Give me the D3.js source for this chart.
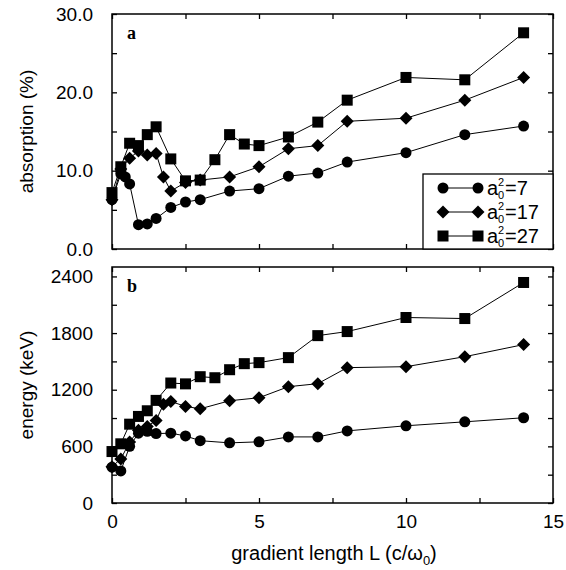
<!DOCTYPE html>
<html>
<head>
<meta charset="utf-8">
<script src="https://cdn.jsdelivr.net/npm/d3@7"></script>
<style>
  body { margin: 0; background: #fff; }
  text { font-family: "Liberation Sans", Arial, sans-serif; fill: #000; }
</style>
</head>
<body>
<div id="container"></div>
<script>
/* DATA */
const legendValues = ["7", "17", "27"];
const markerTypes = ["circle", "diamond", "square"];

// panel a: absorption (%)
const absL7  = [0, 0.3, 0.45, 0.6, 0.9, 1.2, 1.5, 2, 2.5, 3, 4, 5, 6, 7, 8, 10, 12, 14];
const abs7   = [6.3, 9.6, 9.2, 8.3, 3.1, 3.2, 3.9, 5.3, 6.0, 6.3, 7.4, 7.7, 9.3, 9.7, 11.1, 12.3, 14.6, 15.7];
const absL17 = [0, 0.3, 0.6, 0.9, 1.2, 1.5, 1.75, 2, 2.5, 3, 4, 5, 6, 7, 8, 10, 12, 14];
const abs17  = [6.3, 10.2, 11.6, 12.5, 12.0, 12.2, 9.2, 7.4, 8.5, 8.8, 9.2, 10.5, 12.8, 13.2, 16.3, 16.7, 19.0, 21.9];
const absL27 = [0, 0.3, 0.6, 0.9, 1.2, 1.5, 2, 2.5, 3, 3.5, 4, 4.5, 5, 6, 7, 8, 10, 12, 14];
const abs27  = [7.2, 10.5, 13.5, 13.2, 14.6, 15.6, 11.5, 8.7, 8.8, 11.4, 14.6, 13.4, 13.2, 14.3, 16.2, 19.0, 21.9, 21.6, 27.6];

// panel b: energy (keV)
const enL7  = [0, 0.3, 0.6, 0.9, 1.2, 1.5, 2, 2.5, 3, 4, 5, 6, 7, 8, 10, 12, 14];
const en7   = [380, 340, 600, 740, 760, 735, 740, 710, 660, 637, 648, 700, 700, 764, 818, 860, 903];
const enL17 = [0, 0.3, 0.6, 0.9, 1.2, 1.5, 1.75, 2, 2.5, 3, 4, 5, 6, 7, 8, 10, 12, 14];
const en17  = [385, 467, 645, 770, 810, 875, 1045, 1076, 1023, 998, 1083, 1115, 1232, 1264, 1434, 1444, 1550, 1678];
const enL27 = [0, 0.3, 0.6, 0.9, 1.2, 1.5, 2, 2.5, 3, 3.5, 4, 4.5, 5, 6, 7, 8, 10, 12, 14];
const en27  = [545, 627, 835, 917, 977, 1087, 1271, 1262, 1338, 1327, 1412, 1476, 1487, 1540, 1773, 1816, 1965, 1954, 2336];

const xTicks = [0, 2.5, 5, 7.5, 10, 12.5, 15];
const absTicks = [0, 5, 10, 15, 20, 25, 30];
const enTicks = [0, 300, 600, 900, 1200, 1500, 1800, 2100, 2400];

/* CONSTANTS */
const width = 566, height = 570;
const left = 112, right = 553;

const svg = d3.select("#container").append("svg")
  .attr("width", width).attr("height", height);

const xScale = d3.scaleLinear().domain([0, 15]).range([left, right]);

function drawMarker(g, type, x, y) {
  if (type === "circle") {
    g.append("circle").attr("cx", x).attr("cy", y).attr("r", 5.5).attr("fill", "#000");
  } else if (type === "diamond") {
    const s = 6.5;
    g.append("path").attr("d", `M${x},${y - s}L${x + s},${y}L${x},${y + s}L${x - s},${y}Z`).attr("fill", "#000");
  } else {
    g.append("rect").attr("x", x - 5.5).attr("y", y - 5.5).attr("width", 11).attr("height", 11).attr("fill", "#000");
  }
}

function panel(top, bottom, yDomain, yTicks, labelTicks, fmt, series, yTitle, tag, showX) {
  const yScale = d3.scaleLinear().domain(yDomain).range([bottom, top]);
  const g = svg.append("g");

  // frame
  g.append("rect").attr("x", left).attr("y", top)
    .attr("width", right - left).attr("height", bottom - top)
    .attr("fill", "none").attr("stroke", "#000").attr("stroke-width", 1.5);

  // ticks (inward on all four sides)
  const fmtY = d => labelTicks.includes(d) ? fmt(d) : "";
  const yAxisL = d3.axisLeft(yScale).tickValues(yTicks).tickSize(-5).tickPadding(19).tickFormat(fmtY);
  const yAxisR = d3.axisRight(yScale).tickValues(yTicks).tickSize(-5).tickFormat("");
  const xAxisB = d3.axisBottom(xScale).tickValues(xTicks).tickSize(-5).tickPadding(12)
    .tickFormat(d => showX && d % 5 === 0 ? d3.format("d")(d) : "");
  const xAxisT = d3.axisTop(xScale).tickValues(xTicks).tickSize(-5).tickFormat("");

  const axes = [
    g.append("g").attr("transform", `translate(${left},0)`).call(yAxisL),
    g.append("g").attr("transform", `translate(${right},0)`).call(yAxisR),
    g.append("g").attr("transform", `translate(0,${bottom})`).call(xAxisB),
    g.append("g").attr("transform", `translate(0,${top})`).call(xAxisT)
  ];
  axes.forEach(a => {
    a.select(".domain").remove();
    a.selectAll("line").attr("stroke", "#000").attr("stroke-width", 1.3);
    a.selectAll("text").attr("font-size", 19).attr("font-family", "Liberation Sans, Arial, sans-serif").attr("fill", "#000");
  });

  // y title
  g.append("text")
    .attr("transform", `translate(28,${(top + bottom) / 2}) rotate(-90)`)
    .attr("text-anchor", "middle").attr("dominant-baseline", "middle")
    .attr("font-size", 19).text(yTitle);

  // panel tag
  g.append("text").attr("x", 127).attr("y", top + 25)
    .style("font-family", "Liberation Serif, Times New Roman, serif")
    .attr("font-weight", "bold").attr("font-size", 18).text(tag);

  // lines and markers
  const line = d3.line().x(d => xScale(d[0])).y(d => yScale(d[1]));
  series.forEach((s, i) => {
    const pts = s.L.map((l, j) => [l, s.v[j]]);
    g.append("path").datum(pts).attr("d", line)
      .attr("fill", "none").attr("stroke", "#000").attr("stroke-width", 1);
    const mg = g.append("g");
    pts.forEach(p => drawMarker(mg, markerTypes[i], xScale(p[0]), yScale(p[1])));
  });
  return g;
}

panel(14, 249, [0, 30], absTicks, [0, 10, 20, 30], d3.format(".1f"),
  [{ L: absL7, v: abs7 }, { L: absL17, v: abs17 }, { L: absL27, v: abs27 }],
  "absorption (%)", "a", false);

panel(267, 503, [0, 2500], enTicks, [0, 600, 1200, 1800, 2400], d3.format("d"),
  [{ L: enL7, v: en7 }, { L: enL17, v: en17 }, { L: enL27, v: en27 }],
  "energy (keV)", "b", true);

// legend
const lg = svg.append("g");
lg.append("rect").attr("x", 423).attr("y", 174).attr("width", right - 423).attr("height", 249 - 174)
  .attr("fill", "#fff").attr("stroke", "#000").attr("stroke-width", 1.3);
legendValues.forEach((val, i) => {
  const y = 188 + i * 24;
  lg.append("line").attr("x1", 443).attr("x2", 478).attr("y1", y).attr("y2", y)
    .attr("stroke", "#000").attr("stroke-width", 1);
  drawMarker(lg, markerTypes[i], 443, y);
  drawMarker(lg, markerTypes[i], 478, y);
  const ty = y + 7;
  lg.append("text").attr("x", 487).attr("y", ty).attr("font-size", 20).text("a");
  lg.append("text").attr("x", 498).attr("y", ty - 9).attr("font-size", 11).text("2");
  lg.append("text").attr("x", 498).attr("y", ty + 4).attr("font-size", 11).text("0");
  lg.append("text").attr("x", 505).attr("y", ty).attr("font-size", 20).text("=" + val);
});

// x title
const xt = svg.append("text").attr("x", 334).attr("y", 560).attr("text-anchor", "middle").attr("font-size", 20);
xt.append("tspan").text("gradient length L (c/ω");
xt.append("tspan").attr("font-size", 13).attr("dy", 5).text("0");
xt.append("tspan").attr("dy", -5).text(")");
</script>
</body>
</html>
